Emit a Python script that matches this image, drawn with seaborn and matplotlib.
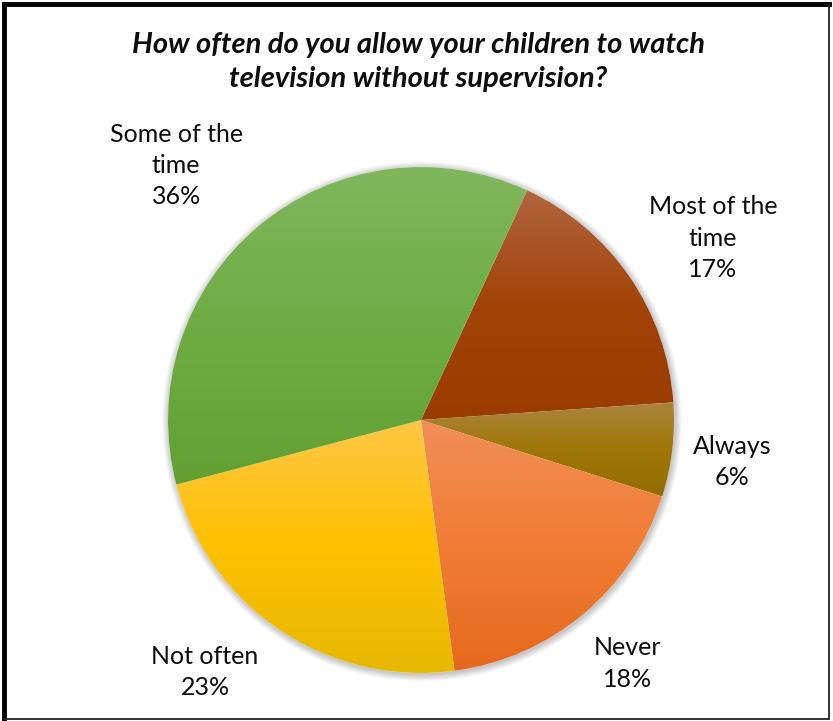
import numpy as np
import matplotlib
matplotlib.use("Agg")
import matplotlib.pyplot as plt
import seaborn as sns
from matplotlib.colors import LinearSegmentedColormap
from matplotlib.patches import Circle
from matplotlib.lines import Line2D

# Survey answers, in clockwise order starting after the top of the pie
categories = ["Most of the time", "Always", "Never", "Not often", "Some of the time"]
label_text = ["Most of the\ntime", "Always", "Never", "Not often", "Some of the\ntime"]
shares = [17, 6, 18, 23, 36]

# light / base / dark gradient stops for each slice
grad_top = ["#B2643F", "#AC8540", "#F28E58", "#FFC745", "#80B75D"]
grad_mid = ["#A24308", "#A07708", "#F07D34", "#FFC000", "#6EAD43"]
grad_bot = ["#9A3C00", "#946C00", "#E5691D", "#E6B800", "#62A033"]

# label centres, in pie radii from the pie centre
label_xy = [(1.154, 0.718), (1.229, -0.166), (0.816, -0.962), (-0.854, -0.995), (-0.968, 1.006)]

title = "How often do you allow your children to watch\ntelevision without supervision?"

sns.set_theme(style="white")
plt.rcParams["font.family"] = ["Lato", "DejaVu Sans"]

W, H = 833, 721
fig = plt.figure(figsize=(W / 100, H / 100), dpi=100)
fig.patch.set_facecolor("white")

cx, cy, R = 421, 420, 253
ax = fig.add_axes([(cx - R) / W, (H - cy - R) / H, 2 * R / W, 2 * R / H])
ax.set_aspect("equal")
ax.axis("off")

# soft shadow around the pie
for i in range(10):
    ax.add_patch(Circle((0.004, -0.006), 1.0 + 0.003 * i, facecolor="#000000",
                        alpha=0.025, edgecolor="none", zorder=0, clip_on=False))
ax.add_patch(Circle((0, 0), 1.0, facecolor="white", edgecolor="none", zorder=0.5))

start = 90 - 24.8
wedges, _ = ax.pie(shares, startangle=start, counterclock=False, radius=1.0,
                   center=(0, 0), frame=False,
                   wedgeprops=dict(linewidth=0, edgecolor="none"))

for w, c0, c1, c2 in zip(wedges, grad_top, grad_mid, grad_bot):
    ext = w.get_path().get_extents()
    cmap = LinearSegmentedColormap.from_list("g", [c2, c1, c0])
    grad = np.linspace(0, 1, 256).reshape(-1, 1)
    im = ax.imshow(grad, cmap=cmap, origin="lower", aspect="auto",
                   extent=[ext.x0, ext.x1, ext.y0, ext.y1], zorder=1,
                   interpolation="bilinear")
    im.set_clip_path(w)
    w.set_facecolor("none")
    w.set_zorder(2)

ax.set_xlim(-1, 1)
ax.set_ylim(-1, 1)

# category labels with percentages
for txt, pct, (lx, ly) in zip(label_text, shares, label_xy):
    ax.text(lx, ly, f"{txt}\n{pct}%", ha="center", va="center", fontsize=18,
            color="#0d0d0d", linespacing=1.44, clip_on=False)

fig.text(0.502, 1 - 62 / H, title, ha="center", va="center", fontsize=21,
         fontweight="bold", fontstyle="italic", color="#0d0d0d", linespacing=1.42)

# frame around the chart
def px(x, y):
    return (x / W, 1 - y / H)

fig.add_artist(Line2D(*zip(px(4, 4), px(4, 719)), color="black", lw=3.5,
                      transform=fig.transFigure, solid_capstyle="projecting"))
fig.add_artist(Line2D(*zip(px(4, 4), px(829, 4)), color="black", lw=3.5,
                      transform=fig.transFigure, solid_capstyle="projecting"))
fig.add_artist(Line2D(*zip(px(828.5, 4), px(828.5, 719)), color="#222222", lw=1.3,
                      transform=fig.transFigure))
fig.add_artist(Line2D(*zip(px(4, 719), px(829, 719)), color="#222222", lw=1.3,
                      transform=fig.transFigure))

fig.savefig("out.png", dpi=100, facecolor="white")
